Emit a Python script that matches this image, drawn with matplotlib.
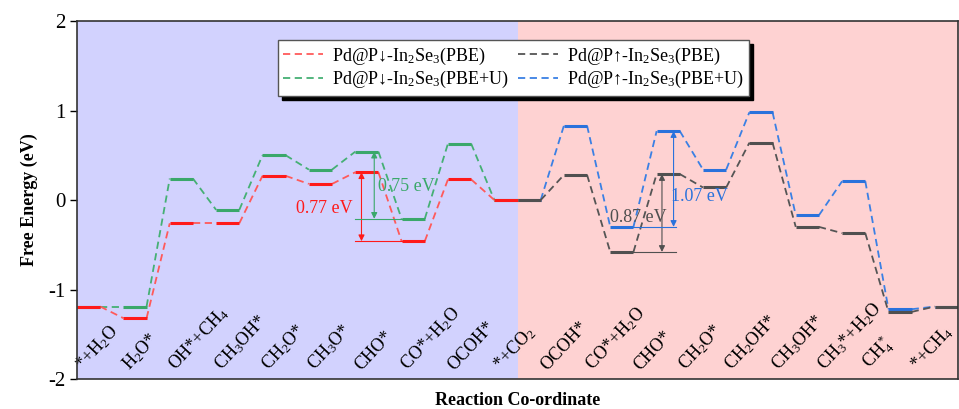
import matplotlib
matplotlib.use("Agg")
import matplotlib.pyplot as plt
from matplotlib.lines import Line2D

plt.rcParams['font.family'] = ['Liberation Serif', 'DejaVu Serif']
plt.rcParams['mathtext.fontset'] = 'custom'
plt.rcParams['mathtext.rm'] = 'Liberation Serif'
plt.rcParams['mathtext.it'] = 'Liberation Serif:italic'
plt.rcParams['mathtext.bf'] = 'Liberation Serif:bold'

# ---- data ----
labels = ['*+H$_2$O', 'H$_2$O*', 'OH*+CH$_4$', 'CH$_3$OH*', 'CH$_2$O*', 'CH$_3$O*',
          'CHO*', 'CO*+H$_2$O', 'OCOH*', '*+CO$_2$', 'OCOH*', 'CO*+H$_2$O', 'CHO*',
          'CH$_2$O*', 'CH$_2$OH*', 'CH$_3$OH*', 'CH$_3$*+H$_2$O', 'CH$_4^*$', '*+CH$_4$']

red_pbe = [-1.19, -1.32, -0.26, -0.26, 0.27, 0.18, 0.31, -0.46, 0.23, 0.00]
green_pbeu = [-1.19, -1.19, 0.24, -0.11, 0.50, 0.34, 0.54, -0.21, 0.63, 0.00]
black_pbe = [0.00, 0.28, -0.58, 0.29, 0.14, 0.64, -0.30, -0.37, -1.25, -1.19]
blue_pbeu = [0.00, 0.83, -0.30, 0.77, 0.34, 0.98, -0.17, 0.21, -1.22, -1.19]

legend_names = ['Pd@P↓-In$_2$Se$_3$(PBE)', 'Pd@P↓-In$_2$Se$_3$(PBE+U)',
                'Pd@P↑-In$_2$Se$_3$(PBE)', 'Pd@P↑-In$_2$Se$_3$(PBE+U)']
barriers = ['0.77 eV', '0.75 eV', '0.87 eV', '1.07 eV']

# ---- style ----
C_RED, C_RED_L = '#ff1a1a', '#ff5a5a'
C_GRN, C_GRN_L = '#3aa86a', '#45b074'
C_BLK, C_BLK_L = '#505050', '#555555'
C_BLU, C_BLU_L = '#2a72dc', '#3a80e4'

fig = plt.figure(figsize=(9.59, 4.09), dpi=100)
ax = fig.add_axes([0.0803, 0.0733, 0.9187, 0.8753])

ax.axvspan(0, 19, color='#d2d2fe', zorder=0, lw=0)
ax.axvspan(19, 38, color='#fed2d2', zorder=0, lw=0)


def draw_path(vals, start, c_level, c_link, z):
    for i, e in enumerate(vals):
        x0 = start + 2 * i
        ax.plot([x0, x0 + 1], [e, e], color=c_level, lw=2.2,
                solid_capstyle='butt', zorder=z + 1)
        if i + 1 < len(vals):
            ax.plot([x0 + 1, x0 + 2], [e, vals[i + 1]], color=c_link, lw=1.3,
                    dashes=(4, 2.5), zorder=z)


draw_path(green_pbeu, 0, C_GRN, C_GRN_L, 2)
draw_path(red_pbe, 0, C_RED, C_RED_L, 4)
draw_path(blue_pbeu, 19, C_BLU, C_BLU_L, 2)
draw_path(black_pbe, 19, C_BLK, C_BLK_L, 4)


def barrier(x, top, bottom, x0, x1, color, z=6):
    ax.plot([x0, x1], [bottom, bottom], color=color, lw=0.8, zorder=z)
    ax.annotate('', xy=(x, top), xytext=(x, bottom),
                arrowprops=dict(arrowstyle='<|-|>', color=color, lw=0.8,
                                shrinkA=0, shrinkB=0, mutation_scale=9),
                zorder=z)


barrier(12.27, red_pbe[6], red_pbe[7], 12.0, 14.0, C_RED)
barrier(12.82, green_pbeu[6], green_pbeu[7], 12.0, 14.0, C_GRN)
barrier(25.23, black_pbe[3], black_pbe[2], 24.0, 25.85, C_BLK)
barrier(25.73, blue_pbeu[3], blue_pbeu[2], 24.0, 25.85, C_BLU)

ax.text(11.9, -0.095, barriers[0], color=C_RED, fontsize=13, ha='right', va='center', zorder=7)
ax.text(12.97, 0.15, barriers[1], color=C_GRN, fontsize=13, ha='left', va='center', zorder=7)
ax.text(24.2, -0.20, barriers[2], color=C_BLK, fontsize=13, ha='center', va='center', zorder=7)
ax.text(25.6, 0.04, barriers[3], color=C_BLU, fontsize=13, ha='left', va='center', zorder=7)

for k, lab in enumerate(labels):
    ax.text(2 * k + 0.4, -1.94, lab, rotation=47, rotation_mode='anchor',
            ha='left', va='bottom', fontsize=13, zorder=7)

ax.set_xlim(0, 38)
ax.set_ylim(-2, 2)
ax.set_xticks([])
ax.set_yticks([-2, -1, 0, 1, 2])
ax.set_yticklabels(['-2', '-1', '0', '1', '2'])
ax.tick_params(axis='y', direction='out', length=5, width=1, labelsize=15, pad=3)
for s in ax.spines.values():
    s.set_linewidth(1.2)
    s.set_color('#333333')
    s.set_zorder(10)

ax.set_ylabel('Free Energy (eV)', fontsize=13, fontweight='bold', labelpad=8)
ax.set_xlabel('Reaction Co-ordinate', fontsize=13, fontweight='bold', labelpad=9)

handles = [Line2D([], [], color=C_RED_L, lw=1.3, dashes=(4, 2.5)),
           Line2D([], [], color=C_GRN_L, lw=1.3, dashes=(4, 2.5)),
           Line2D([], [], color=C_BLK_L, lw=1.3, dashes=(4, 2.5)),
           Line2D([], [], color=C_BLU_L, lw=1.3, dashes=(4, 2.5))]
leg = ax.legend(handles, legend_names, ncol=2, loc='upper left',
                bbox_to_anchor=(0.228, 0.947), borderaxespad=0, fontsize=13,
                frameon=True, fancybox=False, framealpha=1, edgecolor='#555555',
                handlelength=2.2, handletextpad=0.5, columnspacing=0.5,
                labelspacing=0.15, borderpad=0.3,
                shadow={'ox': 3, 'oy': -3, 'color': 'black', 'alpha': 1})
leg.set_zorder(20)
leg.get_frame().set_linewidth(1.0)

fig.savefig('out.png', dpi=100)
